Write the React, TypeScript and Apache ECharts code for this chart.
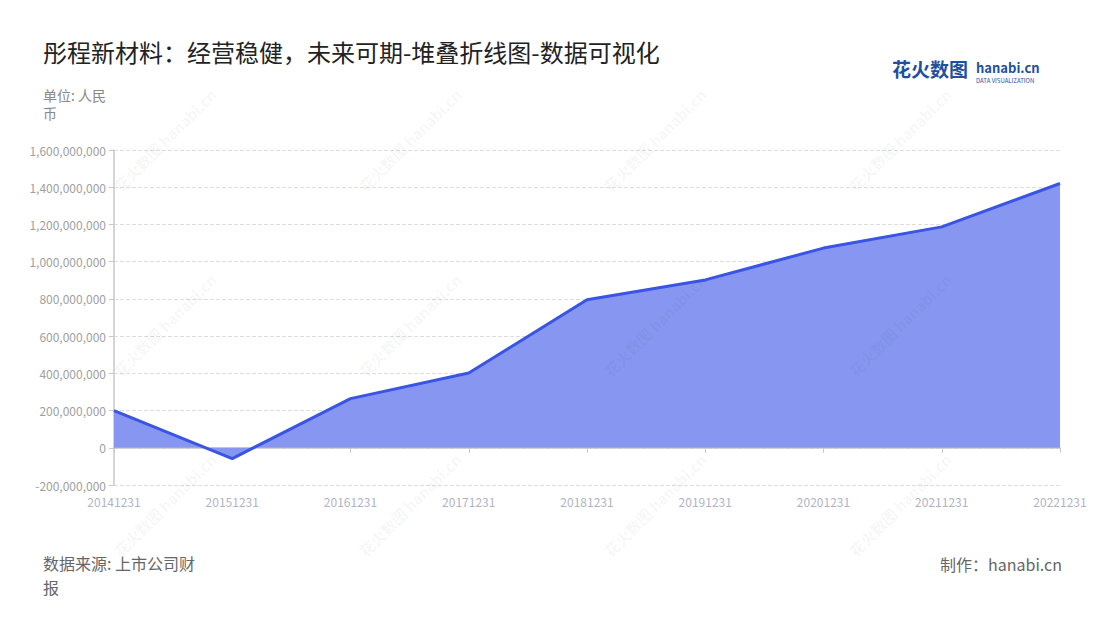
import React, { useEffect, useRef } from "react";
import * as echarts from "echarts";

const categories = ["20141231", "20151231", "20161231", "20171231", "20181231", "20191231", "20201231", "20211231", "20221231"];
const values = [200000000, -58000000, 264000000, 402000000, 795000000, 902000000, 1073000000, 1187000000, 1420000000];
const seriesName = "经营活动现金流量净额";
const titleText = "彤程新材料：经营稳健，未来可期-堆叠折线图-数据可视化";
const unitLines = ["单位: 人民", "币"];
const sourceLines = ["数据来源: 上市公司财", "报"];
const makerText = "制作：hanabi.cn";
const yMin = -200000000;
const yMax = 1600000000;
const yInterval = 200000000;

const FONT = '"Noto Sans CJK SC", "Noto Sans", sans-serif';

export default function App() {
  const ref = useRef<HTMLDivElement>(null);
  useEffect(() => {
    document.body.style.margin = "0";
    const chart = echarts.init(ref.current!, null, { renderer: "svg" });
    const marks: any[] = [];
    const wxs = [165, 410, 655, 900];
    const wys = [140, 325, 505];
    for (const wy of wys) {
      for (const wx of wxs) {
        marks.push({
          type: "text",
          x: wx,
          y: wy,
          rotation: Math.PI / 4,
          z: 100,
          silent: true,
          style: {
            text: "花火数图 hanabi.cn",
            fill: "rgba(0,0,0,0.05)",
            font: `bold 15px ${FONT}`,
            align: "center",
            verticalAlign: "middle",
          },
        });
      }
    }
    chart.setOption({
      animation: false,
      textStyle: { fontFamily: FONT },
      graphic: [
        {
          type: "text",
          left: 43,
          top: 39,
          style: { text: titleText, fill: "#222", font: `24px ${FONT}` },
        },
        {
          type: "text",
          left: 43,
          top: 88,
          style: { text: unitLines[0], fill: "#888", font: `14px ${FONT}` },
        },
        {
          type: "text",
          left: 43,
          top: 106,
          style: { text: unitLines[1], fill: "#888", font: `14px ${FONT}` },
        },
        {
          type: "text",
          left: 43,
          top: 555,
          style: { text: sourceLines[0], fill: "#666", font: `16px ${FONT}` },
        },
        {
          type: "text",
          left: 43,
          top: 579,
          style: { text: sourceLines[1], fill: "#666", font: `16px ${FONT}` },
        },
        {
          type: "text",
          right: 38,
          top: 556,
          style: { text: makerText, fill: "#666", font: `16px ${FONT}` },
        },
        {
          type: "text",
          left: 892,
          top: 59,
          style: { text: "花火数图", fill: "#1f4f9f", font: `bold 19px ${FONT}` },
        },
        {
          type: "text",
          left: 976,
          top: 61,
          style: { text: "hanabi.cn", fill: "#1f4f9f", font: `bold 13px ${FONT}` },
        },
        {
          type: "text",
          left: 976,
          top: 77,
          style: { text: "DATA VISUALIZATION", fill: "#1f4f9f", font: `6px ${FONT}` },
        },
        ...marks,
      ],
      grid: { left: 114, right: 40, top: 150, bottom: 135 },
      xAxis: {
        type: "category",
        data: categories,
        boundaryGap: false,
        axisLine: { lineStyle: { color: "#c8c8c8", width: 1.5 } },
        axisTick: { alignWithLabel: true, lineStyle: { color: "#c8c8c8" } },
        axisLabel: { color: "#b0b4c4", fontSize: 12, margin: 10 },
      },
      yAxis: {
        type: "value",
        min: yMin,
        max: yMax,
        interval: yInterval,
        axisLine: { show: true, lineStyle: { color: "#c8c8c8", width: 1.5 } },
        axisTick: { show: true, lineStyle: { color: "#c8c8c8" } },
        axisLabel: {
          color: "#a0a0a0",
          fontSize: 12,
          formatter: (v: number) => v.toLocaleString("en-US"),
        },
        splitLine: { lineStyle: { type: "dashed", color: "#dddddd" } },
      },
      series: [
        {
          name: seriesName,
          type: "line",
          stack: "total",
          data: values,
          symbol: "none",
          lineStyle: { color: "#3a54e6", width: 3 },
          itemStyle: { color: "#3a54e6" },
          areaStyle: { color: "#8797f1", opacity: 1 },
        },
      ],
    });
    return () => chart.dispose();
  }, []);
  return <div ref={ref} style={{ width: 1100, height: 620 }} />;
}
